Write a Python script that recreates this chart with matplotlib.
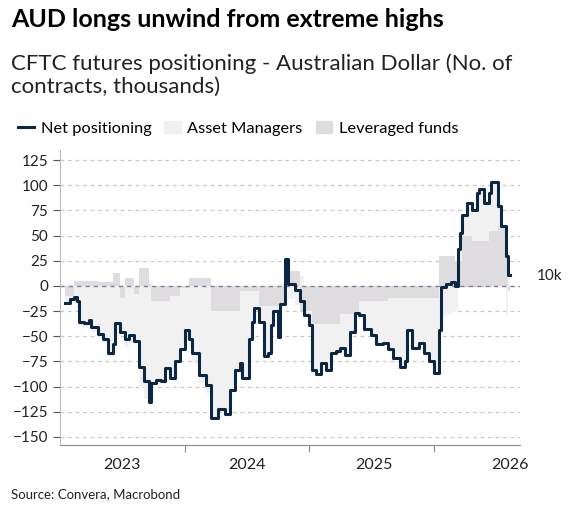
import numpy as np
import matplotlib.pyplot as plt
from matplotlib.lines import Line2D
from matplotlib.patches import Patch

plt.rcParams['font.family'] = ['Lato', 'DejaVu Sans']

# weeks counted from mid-January 2023
net_weeks = [0, 2, 4, 5, 6, 8, 10, 11, 14, 16, 18, 20, 21, 23, 25, 27, 29, 31, 33, 35,
             36, 38, 40, 42, 44, 46, 48, 50, 52, 53, 56, 59, 61, 64, 67, 69, 71, 73, 74, 77,
             78, 79, 81, 83, 85, 86, 87, 89, 90, 92, 93, 96, 98, 100, 102, 103, 105, 107, 109, 111,
             113, 115, 117, 119, 121, 123, 125, 128, 130, 133, 135, 137, 140, 142, 143, 145, 148, 150, 152, 154,
             156, 157, 159, 161, 163, 164, 165, 166, 168, 170, 172, 173, 175, 177, 178, 180, 181, 182, 184, 185]
net_pos = [-17, -13, -11, -15, -36, -37, -34, -41, -48, -53, -67, -58, -37, -46, -53, -49, -55, -81, -94, -115,
           -96, -93, -94, -82, -91, -75, -63, -44, -53, -67, -88, -98, -131, -122, -127, -103, -84, -77, -91, -53,
           -36, -22, -36, -70, -67, -39, -25, -51, -18, 27, 2, -4, -15, -29, -39, -84, -87, -77, -84, -67,
           -65, -62, -69, -46, -27, -29, -43, -49, -58, -57, -63, -72, -81, -75, -44, -62, -57, -67, -75, -86,
           -44, -1, 2, 4, 0, 37, 53, 70, 82, 75, 92, 96, 82, 92, 103, 103, 79, 60, 30, 11]

lev_weeks = [0, 3, 14, 19, 22, 25, 28, 30, 34, 36, 44, 48, 51, 60, 73, 81, 91, 98, 103, 112,
             115, 122, 135, 156, 163, 166, 170, 176, 181, 185]
lev_funds = [-10, 5, 4, 13, -12, 8, -8, 18, 2, -15, -10, -2, 8, -25, -5, -20, 15, -25, -38, -38,
             -28, -15, -12, 30, 25, 50, 45, 55, 60, -5]

year_labels = ['2023', '2024', '2025', '2026']
year_label_pos = [24, 76, 129, 186]
year_ticks = [50, 102, 154]

wk = np.array(net_weeks)
net = np.array(net_pos, dtype=float)
lev = np.array(lev_funds, dtype=float)[np.searchsorted(lev_weeks, wk, side='right') - 1]
am = net - lev

fig = plt.figure(figsize=(5.69, 5.20), dpi=100)
ax = fig.add_axes([60 / 569, 75 / 520, 460 / 569, 295 / 520])

c_am, c_lev, c_net = '#f1f1f1', '#dedcde', '#0c2744'
widths = np.diff(np.append(wk, wk[-1] + 1))
# stack positive and negative parts separately
pos_base = np.zeros_like(net)
neg_base = np.zeros_like(net)
for vals, col in [(lev, c_lev), (am, c_am)]:
    bottom = np.where(vals >= 0, pos_base, neg_base)
    ax.bar(wk, vals, bottom=bottom, width=widths, align='edge', color=col, linewidth=0, zorder=1)
    pos_base = pos_base + np.clip(vals, 0, None)
    neg_base = neg_base + np.clip(vals, None, 0)

ax.step(np.append(wk, wk[-1] + 1), np.append(net, net[-1]), where='post', color=c_net, lw=2.2, zorder=3)

ax.set_ylim(-158, 135)
ax.set_xlim(-2, 190)
ax.set_yticks(np.arange(-150, 126, 25))
ax.yaxis.grid(True, ls=(0, (3, 3)), color='#c8c8c8', lw=0.9)
ax.axhline(0, color='#7a8296', ls=(0, (3, 3)), lw=1, zorder=2)
ax.set_axisbelow(True)
for s in ['top', 'right']:
    ax.spines[s].set_visible(False)
ax.spines['left'].set_color('#bbbbbb')
ax.spines['bottom'].set_color('#888888')
ax.tick_params(axis='y', length=5, color='#555555', labelsize=11, labelcolor='#222222')
ax.set_xticks(year_ticks)
ax.set_xticklabels([])
ax.tick_params(axis='x', length=5, color='#888888')
for lab, p in zip(year_labels, year_label_pos):
    ax.text(p, -171, lab, ha='center', va='top', fontsize=11.5, color='#222222')
ax.text(197, 10, '10k', ha='left', va='center', fontsize=11, color='#222222', clip_on=False)

fig.text(0.02, 0.962, 'AUD longs unwind from extreme highs', fontsize=18, fontweight='bold', va='center')
fig.text(0.02, 0.855, 'CFTC futures positioning - Australian Dollar (No. of\ncontracts, thousands)',
         fontsize=16, va='center', color='#222222', linespacing=1.2)
handles = [Line2D([], [], color=c_net, lw=2.2),
           Patch(color=c_am), Patch(color=c_lev)]
fig.legend(handles, ['Net positioning', 'Asset Managers', 'Leveraged funds'], loc='center left',
           bbox_to_anchor=(0.005, 0.753), ncol=3, frameon=False, fontsize=11.8, handlelength=1.0,
           handletextpad=0.4, columnspacing=0.8)
fig.text(0.02, 0.05, 'Source: Convera, Macrobond', fontsize=9.5, va='center', color='#222222')

fig.savefig('out.png', dpi=100)
